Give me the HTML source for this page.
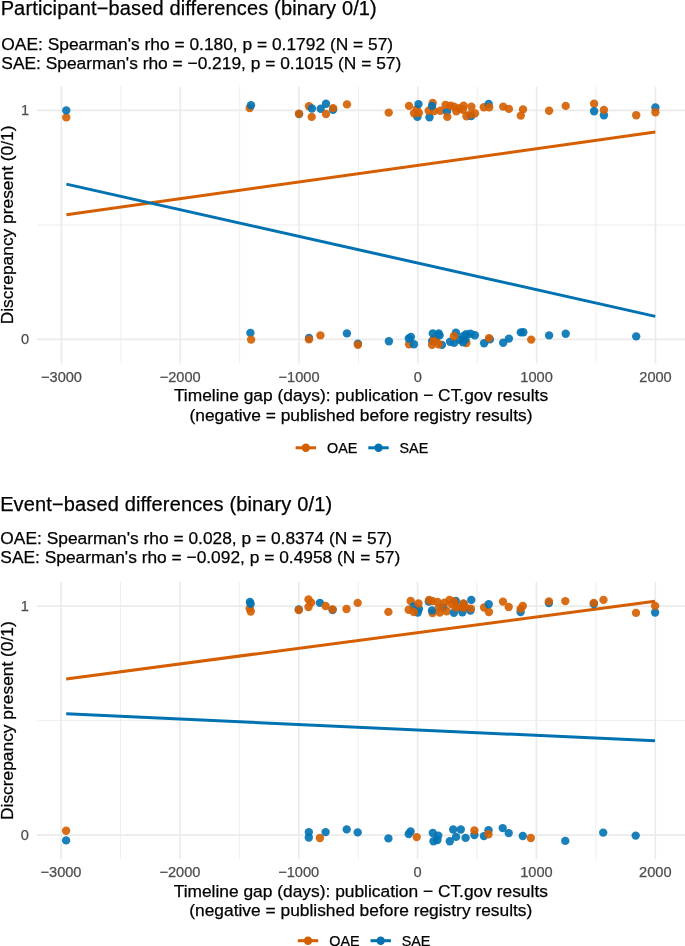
<!DOCTYPE html>
<html><head><meta charset="utf-8"><title>Discrepancy vs timeline gap</title>
<style>
html,body{margin:0;padding:0;background:#fff;}
svg{display:block}
text{font-family:"Liberation Sans",Arial,Helvetica,sans-serif;fill:#000;stroke:#000;stroke-width:0.25px}
.ti{font-size:20px;letter-spacing:0.14px}
.st{font-size:17.36px}
.at{font-size:17.37px}
.ax{font-size:14.6px;fill:#4D4D4D;stroke:#4D4D4D}
.lg{font-size:14.35px}
.mj{stroke:#EBEBEB;stroke-width:1.68}
.mn{stroke:#EBEBEB;stroke-width:0.84}
</style></head>
<body>
<svg width="685" height="946" viewBox="0 0 685 946">
<rect width="685" height="946" fill="#fff"/>
<line x1="120.85" x2="120.85" y1="86.6" y2="363.4" class="mn"/>
<line x1="239.65" x2="239.65" y1="86.6" y2="363.4" class="mn"/>
<line x1="358.45" x2="358.45" y1="86.6" y2="363.4" class="mn"/>
<line x1="477.25" x2="477.25" y1="86.6" y2="363.4" class="mn"/>
<line x1="596.05" x2="596.05" y1="86.6" y2="363.4" class="mn"/>
<line x1="37.1" x2="685" y1="224.92" y2="224.92" class="mn"/>
<line x1="61.45" x2="61.45" y1="86.6" y2="363.4" class="mj"/>
<line x1="180.25" x2="180.25" y1="86.6" y2="363.4" class="mj"/>
<line x1="299.05" x2="299.05" y1="86.6" y2="363.4" class="mj"/>
<line x1="417.85" x2="417.85" y1="86.6" y2="363.4" class="mj"/>
<line x1="536.65" x2="536.65" y1="86.6" y2="363.4" class="mj"/>
<line x1="655.45" x2="655.45" y1="86.6" y2="363.4" class="mj"/>
<line x1="37.1" x2="685" y1="110.45" y2="110.45" class="mj"/>
<line x1="37.1" x2="685" y1="339.40" y2="339.40" class="mj"/>
<line x1="66.4" y1="214.7" x2="655.3" y2="132.0" stroke="#D55E00" stroke-width="3"/>
<line x1="66.4" y1="184.1" x2="655.3" y2="316.4" stroke="#0072B2" stroke-width="3"/>
<g fill-opacity="0.9">
<circle cx="66.3" cy="117.4" r="4.2" fill="#D55E00"/>
<circle cx="66.3" cy="110.4" r="4.2" fill="#0072B2"/>
<circle cx="249.7" cy="108.1" r="4.2" fill="#D55E00"/>
<circle cx="251.0" cy="105.2" r="4.2" fill="#0072B2"/>
<circle cx="299.1" cy="114.1" r="4.2" fill="#0072B2"/>
<circle cx="299.0" cy="113.8" r="4.2" fill="#D55E00"/>
<circle cx="309.0" cy="106.3" r="4.2" fill="#D55E00"/>
<circle cx="311.9" cy="108.5" r="4.2" fill="#0072B2"/>
<circle cx="311.7" cy="116.9" r="4.2" fill="#D55E00"/>
<circle cx="320.7" cy="108.7" r="4.2" fill="#0072B2"/>
<circle cx="326.0" cy="103.8" r="4.2" fill="#0072B2"/>
<circle cx="326.0" cy="114.0" r="4.2" fill="#D55E00"/>
<circle cx="333.1" cy="109.7" r="4.2" fill="#0072B2"/>
<circle cx="333.1" cy="108.1" r="4.2" fill="#D55E00"/>
<circle cx="347.0" cy="104.4" r="4.2" fill="#D55E00"/>
<circle cx="388.7" cy="112.6" r="4.2" fill="#D55E00"/>
<circle cx="409.0" cy="105.9" r="4.2" fill="#D55E00"/>
<circle cx="417.4" cy="116.9" r="4.2" fill="#0072B2"/>
<circle cx="414.1" cy="113.2" r="4.2" fill="#D55E00"/>
<circle cx="418.9" cy="112.9" r="4.2" fill="#D55E00"/>
<circle cx="416.7" cy="109.2" r="4.2" fill="#D55E00"/>
<circle cx="418.5" cy="104.1" r="4.2" fill="#0072B2"/>
<circle cx="432.7" cy="103.0" r="4.2" fill="#D55E00"/>
<circle cx="429.5" cy="117.3" r="4.2" fill="#0072B2"/>
<circle cx="428.7" cy="110.7" r="4.2" fill="#D55E00"/>
<circle cx="434.2" cy="111.1" r="4.2" fill="#D55E00"/>
<circle cx="432.0" cy="105.9" r="4.2" fill="#0072B2"/>
<circle cx="440.4" cy="110.7" r="4.2" fill="#D55E00"/>
<circle cx="447.0" cy="111.4" r="4.2" fill="#0072B2"/>
<circle cx="445.5" cy="104.9" r="4.2" fill="#D55E00"/>
<circle cx="447.3" cy="116.9" r="4.2" fill="#D55E00"/>
<circle cx="450.5" cy="105.8" r="4.2" fill="#D55E00"/>
<circle cx="454.1" cy="106.8" r="4.2" fill="#D55E00"/>
<circle cx="456.3" cy="111.2" r="4.2" fill="#D55E00"/>
<circle cx="459.2" cy="108.2" r="4.2" fill="#D55E00"/>
<circle cx="463.6" cy="105.8" r="4.2" fill="#D55E00"/>
<circle cx="462.9" cy="109.7" r="4.2" fill="#D55E00"/>
<circle cx="471.4" cy="106.8" r="4.2" fill="#D55E00"/>
<circle cx="466.5" cy="116.3" r="4.2" fill="#D55E00"/>
<circle cx="471.2" cy="116.0" r="4.2" fill="#0072B2"/>
<circle cx="470.2" cy="114.5" r="4.2" fill="#D55E00"/>
<circle cx="475.0" cy="113.4" r="4.2" fill="#D55E00"/>
<circle cx="483.8" cy="107.2" r="4.2" fill="#D55E00"/>
<circle cx="488.7" cy="103.9" r="4.2" fill="#0072B2"/>
<circle cx="489.2" cy="107.2" r="4.2" fill="#D55E00"/>
<circle cx="503.2" cy="106.6" r="4.2" fill="#D55E00"/>
<circle cx="508.9" cy="108.9" r="4.2" fill="#D55E00"/>
<circle cx="523.0" cy="109.4" r="4.2" fill="#D55E00"/>
<circle cx="520.8" cy="115.6" r="4.2" fill="#D55E00"/>
<circle cx="549.1" cy="110.8" r="4.2" fill="#D55E00"/>
<circle cx="565.7" cy="105.9" r="4.2" fill="#D55E00"/>
<circle cx="594.1" cy="103.8" r="4.2" fill="#D55E00"/>
<circle cx="594.1" cy="111.2" r="4.2" fill="#0072B2"/>
<circle cx="603.9" cy="115.3" r="4.2" fill="#0072B2"/>
<circle cx="603.9" cy="109.9" r="4.2" fill="#D55E00"/>
<circle cx="636.2" cy="115.2" r="4.2" fill="#D55E00"/>
<circle cx="655.4" cy="107.4" r="4.2" fill="#0072B2"/>
<circle cx="655.4" cy="112.3" r="4.2" fill="#D55E00"/>
<circle cx="250.4" cy="332.9" r="4.2" fill="#0072B2"/>
<circle cx="251.1" cy="339.6" r="4.2" fill="#D55E00"/>
<circle cx="309.0" cy="337.9" r="4.2" fill="#0072B2"/>
<circle cx="309.0" cy="339.4" r="4.2" fill="#D55E00"/>
<circle cx="320.4" cy="335.4" r="4.2" fill="#D55E00"/>
<circle cx="346.9" cy="333.4" r="4.2" fill="#0072B2"/>
<circle cx="357.9" cy="343.6" r="4.2" fill="#0072B2"/>
<circle cx="357.9" cy="344.8" r="4.2" fill="#D55E00"/>
<circle cx="388.9" cy="341.3" r="4.2" fill="#0072B2"/>
<circle cx="409.1" cy="344.3" r="4.2" fill="#D55E00"/>
<circle cx="408.8" cy="338.5" r="4.2" fill="#0072B2"/>
<circle cx="410.9" cy="337.0" r="4.2" fill="#0072B2"/>
<circle cx="413.9" cy="344.3" r="4.2" fill="#0072B2"/>
<circle cx="432.2" cy="341.0" r="4.2" fill="#0072B2"/>
<circle cx="441.9" cy="344.9" r="4.2" fill="#0072B2"/>
<circle cx="436.0" cy="340.6" r="4.2" fill="#D55E00"/>
<circle cx="433.8" cy="339.0" r="4.2" fill="#D55E00"/>
<circle cx="432.1" cy="344.7" r="4.2" fill="#D55E00"/>
<circle cx="438.7" cy="344.3" r="4.2" fill="#D55E00"/>
<circle cx="432.8" cy="333.4" r="4.2" fill="#0072B2"/>
<circle cx="438.7" cy="333.4" r="4.2" fill="#0072B2"/>
<circle cx="439.6" cy="335.4" r="4.2" fill="#0072B2"/>
<circle cx="455.9" cy="332.7" r="4.2" fill="#0072B2"/>
<circle cx="450.1" cy="341.8" r="4.2" fill="#0072B2"/>
<circle cx="454.1" cy="342.9" r="4.2" fill="#0072B2"/>
<circle cx="466.4" cy="343.0" r="4.2" fill="#D55E00"/>
<circle cx="459.6" cy="339.9" r="4.2" fill="#0072B2"/>
<circle cx="462.9" cy="342.2" r="4.2" fill="#0072B2"/>
<circle cx="463.2" cy="336.2" r="4.2" fill="#0072B2"/>
<circle cx="465.5" cy="339.2" r="4.2" fill="#0072B2"/>
<circle cx="466.2" cy="334.1" r="4.2" fill="#0072B2"/>
<circle cx="470.5" cy="333.8" r="4.2" fill="#0072B2"/>
<circle cx="474.9" cy="335.2" r="4.2" fill="#0072B2"/>
<circle cx="453.9" cy="336.3" r="4.2" fill="#D55E00"/>
<circle cx="484.1" cy="343.2" r="4.2" fill="#0072B2"/>
<circle cx="489.9" cy="339.4" r="4.2" fill="#0072B2"/>
<circle cx="489.0" cy="338.1" r="4.2" fill="#D55E00"/>
<circle cx="503.2" cy="342.8" r="4.2" fill="#0072B2"/>
<circle cx="508.9" cy="338.6" r="4.2" fill="#0072B2"/>
<circle cx="520.8" cy="332.4" r="4.2" fill="#0072B2"/>
<circle cx="523.3" cy="332.2" r="4.2" fill="#0072B2"/>
<circle cx="531.2" cy="339.6" r="4.2" fill="#D55E00"/>
<circle cx="549.1" cy="335.4" r="4.2" fill="#0072B2"/>
<circle cx="565.7" cy="333.7" r="4.2" fill="#0072B2"/>
<circle cx="636.2" cy="336.4" r="4.2" fill="#0072B2"/>
</g>
<text x="0.65" y="14.6" class="ti">Participant−based differences (binary 0/1)</text>
<text x="1.35" y="49.8" class="st">OAE: Spearman's rho = 0.180, p = 0.1792 (N = 57)</text>
<text x="1.35" y="68.7" class="st">SAE: Spearman's rho = −0.219, p = 0.1015 (N = 57)</text>
<text x="29.2" y="115.4" class="ax" text-anchor="end">1</text>
<text x="29.2" y="344.3" class="ax" text-anchor="end">0</text>
<text x="61.5" y="381.8" class="ax" text-anchor="middle">−3000</text>
<text x="180.2" y="381.8" class="ax" text-anchor="middle">−2000</text>
<text x="299.1" y="381.8" class="ax" text-anchor="middle">−1000</text>
<text x="417.8" y="381.8" class="ax" text-anchor="middle">0</text>
<text x="536.6" y="381.8" class="ax" text-anchor="middle">1000</text>
<text x="655.5" y="381.8" class="ax" text-anchor="middle">2000</text>
<text x="361" y="401.3" class="at" text-anchor="middle">Timeline gap (days): publication − CT.gov results</text>
<text x="361" y="420.5" class="at" text-anchor="middle">(negative = published before registry results)</text>
<text transform="translate(13.2,224.9) rotate(-90)" class="at" text-anchor="middle">Discrepancy present (0/1)</text>
<line x1="295.6" x2="316.0" y1="447.8" y2="447.8" stroke="#D55E00" stroke-width="3"/>
<circle cx="305.8" cy="447.8" r="4.2" fill="#D55E00"/>
<text x="327.1" y="452.6" class="lg">OAE</text>
<line x1="368.3" x2="388.7" y1="447.8" y2="447.8" stroke="#0072B2" stroke-width="3"/>
<circle cx="378.5" cy="447.8" r="4.2" fill="#0072B2"/>
<text x="399.5" y="452.6" class="lg">SAE</text>
<line x1="120.43" x2="120.43" y1="582.1" y2="859.3" class="mn"/>
<line x1="239.29" x2="239.29" y1="582.1" y2="859.3" class="mn"/>
<line x1="358.15" x2="358.15" y1="582.1" y2="859.3" class="mn"/>
<line x1="477.01" x2="477.01" y1="582.1" y2="859.3" class="mn"/>
<line x1="595.87" x2="595.87" y1="582.1" y2="859.3" class="mn"/>
<line x1="37.1" x2="685" y1="720.60" y2="720.60" class="mn"/>
<line x1="61.00" x2="61.00" y1="582.1" y2="859.3" class="mj"/>
<line x1="179.86" x2="179.86" y1="582.1" y2="859.3" class="mj"/>
<line x1="298.72" x2="298.72" y1="582.1" y2="859.3" class="mj"/>
<line x1="417.58" x2="417.58" y1="582.1" y2="859.3" class="mj"/>
<line x1="536.44" x2="536.44" y1="582.1" y2="859.3" class="mj"/>
<line x1="655.30" x2="655.30" y1="582.1" y2="859.3" class="mj"/>
<line x1="37.1" x2="685" y1="606.10" y2="606.10" class="mj"/>
<line x1="37.1" x2="685" y1="835.10" y2="835.10" class="mj"/>
<line x1="66.2" y1="678.9" x2="655.0" y2="601.3" stroke="#D55E00" stroke-width="3"/>
<line x1="66.2" y1="713.8" x2="655.0" y2="740.8" stroke="#0072B2" stroke-width="3"/>
<g fill-opacity="0.9">
<circle cx="249.7" cy="608.4" r="4.2" fill="#D55E00"/>
<circle cx="250.7" cy="611.5" r="4.2" fill="#D55E00"/>
<circle cx="249.9" cy="601.9" r="4.2" fill="#0072B2"/>
<circle cx="250.7" cy="603.9" r="4.2" fill="#0072B2"/>
<circle cx="298.8" cy="609.4" r="4.2" fill="#0072B2"/>
<circle cx="298.8" cy="610.0" r="4.2" fill="#D55E00"/>
<circle cx="308.5" cy="599.4" r="4.2" fill="#D55E00"/>
<circle cx="311.2" cy="602.6" r="4.2" fill="#D55E00"/>
<circle cx="308.5" cy="607.0" r="4.2" fill="#D55E00"/>
<circle cx="319.9" cy="602.9" r="4.2" fill="#0072B2"/>
<circle cx="325.6" cy="606.0" r="4.2" fill="#D55E00"/>
<circle cx="332.6" cy="610.0" r="4.2" fill="#0072B2"/>
<circle cx="332.6" cy="609.4" r="4.2" fill="#D55E00"/>
<circle cx="346.5" cy="609.0" r="4.2" fill="#D55E00"/>
<circle cx="357.7" cy="602.9" r="4.2" fill="#D55E00"/>
<circle cx="388.4" cy="611.9" r="4.2" fill="#D55E00"/>
<circle cx="410.7" cy="601.0" r="4.2" fill="#D55E00"/>
<circle cx="418.9" cy="609.0" r="4.2" fill="#0072B2"/>
<circle cx="417.8" cy="612.6" r="4.2" fill="#0072B2"/>
<circle cx="413.8" cy="606.5" r="4.2" fill="#0072B2"/>
<circle cx="418.5" cy="603.5" r="4.2" fill="#D55E00"/>
<circle cx="408.7" cy="609.8" r="4.2" fill="#D55E00"/>
<circle cx="413.8" cy="612.0" r="4.2" fill="#D55E00"/>
<circle cx="428.8" cy="601.5" r="4.2" fill="#0072B2"/>
<circle cx="429.1" cy="600.0" r="4.2" fill="#D55E00"/>
<circle cx="432.4" cy="601.0" r="4.2" fill="#D55E00"/>
<circle cx="437.5" cy="602.0" r="4.2" fill="#D55E00"/>
<circle cx="432.5" cy="613.0" r="4.2" fill="#D55E00"/>
<circle cx="432.0" cy="610.4" r="4.2" fill="#0072B2"/>
<circle cx="443.4" cy="607.2" r="4.2" fill="#0072B2"/>
<circle cx="439.0" cy="607.6" r="4.2" fill="#D55E00"/>
<circle cx="439.8" cy="612.6" r="4.2" fill="#D55E00"/>
<circle cx="444.4" cy="602.8" r="4.2" fill="#D55E00"/>
<circle cx="446.6" cy="611.2" r="4.2" fill="#D55E00"/>
<circle cx="449.5" cy="599.9" r="4.2" fill="#D55E00"/>
<circle cx="455.8" cy="601.0" r="4.2" fill="#0072B2"/>
<circle cx="453.9" cy="601.4" r="4.2" fill="#D55E00"/>
<circle cx="453.9" cy="612.8" r="4.2" fill="#0072B2"/>
<circle cx="451.7" cy="604.2" r="4.2" fill="#D55E00"/>
<circle cx="455.8" cy="607.2" r="4.2" fill="#D55E00"/>
<circle cx="459.3" cy="607.6" r="4.2" fill="#D55E00"/>
<circle cx="462.4" cy="612.2" r="4.2" fill="#0072B2"/>
<circle cx="463.7" cy="603.9" r="4.2" fill="#0072B2"/>
<circle cx="463.4" cy="603.5" r="4.2" fill="#D55E00"/>
<circle cx="462.4" cy="607.6" r="4.2" fill="#D55E00"/>
<circle cx="465.8" cy="607.5" r="4.2" fill="#D55E00"/>
<circle cx="471.3" cy="599.9" r="4.2" fill="#0072B2"/>
<circle cx="470.5" cy="610.6" r="4.2" fill="#0072B2"/>
<circle cx="470.9" cy="608.6" r="4.2" fill="#D55E00"/>
<circle cx="484.1" cy="607.5" r="4.2" fill="#D55E00"/>
<circle cx="488.9" cy="612.0" r="4.2" fill="#D55E00"/>
<circle cx="488.7" cy="604.2" r="4.2" fill="#0072B2"/>
<circle cx="503.0" cy="601.6" r="4.2" fill="#D55E00"/>
<circle cx="508.7" cy="607.0" r="4.2" fill="#D55E00"/>
<circle cx="520.6" cy="612.0" r="4.2" fill="#0072B2"/>
<circle cx="520.6" cy="608.9" r="4.2" fill="#D55E00"/>
<circle cx="522.8" cy="606.0" r="4.2" fill="#D55E00"/>
<circle cx="548.9" cy="603.1" r="4.2" fill="#0072B2"/>
<circle cx="548.9" cy="601.4" r="4.2" fill="#D55E00"/>
<circle cx="565.3" cy="601.1" r="4.2" fill="#D55E00"/>
<circle cx="593.8" cy="604.1" r="4.2" fill="#0072B2"/>
<circle cx="593.8" cy="602.9" r="4.2" fill="#D55E00"/>
<circle cx="603.5" cy="599.9" r="4.2" fill="#D55E00"/>
<circle cx="636.0" cy="612.9" r="4.2" fill="#D55E00"/>
<circle cx="655.1" cy="612.5" r="4.2" fill="#0072B2"/>
<circle cx="655.1" cy="605.9" r="4.2" fill="#D55E00"/>
<circle cx="66.1" cy="830.8" r="4.2" fill="#D55E00"/>
<circle cx="66.1" cy="840.4" r="4.2" fill="#0072B2"/>
<circle cx="308.8" cy="832.1" r="4.2" fill="#0072B2"/>
<circle cx="308.8" cy="837.5" r="4.2" fill="#0072B2"/>
<circle cx="319.9" cy="838.0" r="4.2" fill="#D55E00"/>
<circle cx="325.6" cy="832.1" r="4.2" fill="#0072B2"/>
<circle cx="346.7" cy="829.4" r="4.2" fill="#0072B2"/>
<circle cx="357.7" cy="832.4" r="4.2" fill="#0072B2"/>
<circle cx="388.4" cy="838.4" r="4.2" fill="#0072B2"/>
<circle cx="408.7" cy="834.0" r="4.2" fill="#0072B2"/>
<circle cx="410.6" cy="831.4" r="4.2" fill="#0072B2"/>
<circle cx="416.7" cy="837.1" r="4.2" fill="#D55E00"/>
<circle cx="432.8" cy="833.0" r="4.2" fill="#0072B2"/>
<circle cx="438.3" cy="835.6" r="4.2" fill="#0072B2"/>
<circle cx="433.5" cy="841.2" r="4.2" fill="#0072B2"/>
<circle cx="437.4" cy="840.0" r="4.2" fill="#0072B2"/>
<circle cx="453.2" cy="829.5" r="4.2" fill="#0072B2"/>
<circle cx="460.8" cy="829.5" r="4.2" fill="#0072B2"/>
<circle cx="456.1" cy="836.9" r="4.2" fill="#0072B2"/>
<circle cx="449.8" cy="841.2" r="4.2" fill="#0072B2"/>
<circle cx="465.6" cy="837.9" r="4.2" fill="#0072B2"/>
<circle cx="474.4" cy="835.0" r="4.2" fill="#0072B2"/>
<circle cx="474.4" cy="830.5" r="4.2" fill="#D55E00"/>
<circle cx="483.9" cy="836.1" r="4.2" fill="#0072B2"/>
<circle cx="488.5" cy="830.2" r="4.2" fill="#0072B2"/>
<circle cx="488.5" cy="834.2" r="4.2" fill="#D55E00"/>
<circle cx="502.7" cy="828.1" r="4.2" fill="#0072B2"/>
<circle cx="508.7" cy="833.1" r="4.2" fill="#0072B2"/>
<circle cx="522.8" cy="836.0" r="4.2" fill="#0072B2"/>
<circle cx="530.8" cy="838.0" r="4.2" fill="#D55E00"/>
<circle cx="565.3" cy="840.9" r="4.2" fill="#0072B2"/>
<circle cx="603.2" cy="832.6" r="4.2" fill="#0072B2"/>
<circle cx="635.7" cy="835.6" r="4.2" fill="#0072B2"/>
</g>
<text x="0.15" y="510.8" class="ti">Event−based differences (binary 0/1)</text>
<text x="0.35" y="544.3" class="st">OAE: Spearman's rho = 0.028, p = 0.8374 (N = 57)</text>
<text x="0.35" y="563.1" class="st">SAE: Spearman's rho = −0.092, p = 0.4958 (N = 57)</text>
<text x="28.8" y="611.0" class="ax" text-anchor="end">1</text>
<text x="28.8" y="840.0" class="ax" text-anchor="end">0</text>
<text x="61.0" y="877.0" class="ax" text-anchor="middle">−3000</text>
<text x="179.9" y="877.0" class="ax" text-anchor="middle">−2000</text>
<text x="298.7" y="877.0" class="ax" text-anchor="middle">−1000</text>
<text x="417.6" y="877.0" class="ax" text-anchor="middle">0</text>
<text x="536.4" y="877.0" class="ax" text-anchor="middle">1000</text>
<text x="655.3" y="877.0" class="ax" text-anchor="middle">2000</text>
<text x="360.8" y="897.3" class="at" text-anchor="middle">Timeline gap (days): publication − CT.gov results</text>
<text x="360.8" y="916.3" class="at" text-anchor="middle">(negative = published before registry results)</text>
<text transform="translate(13.2,720.6) rotate(-90)" class="at" text-anchor="middle">Discrepancy present (0/1)</text>
<line x1="297.8" x2="318.2" y1="940.7" y2="940.7" stroke="#D55E00" stroke-width="3"/>
<circle cx="308.0" cy="940.7" r="4.2" fill="#D55E00"/>
<text x="329.3" y="945.5" class="lg">OAE</text>
<line x1="370.5" x2="390.9" y1="940.7" y2="940.7" stroke="#0072B2" stroke-width="3"/>
<circle cx="380.7" cy="940.7" r="4.2" fill="#0072B2"/>
<text x="401.7" y="945.5" class="lg">SAE</text>
</svg>
</body></html>
